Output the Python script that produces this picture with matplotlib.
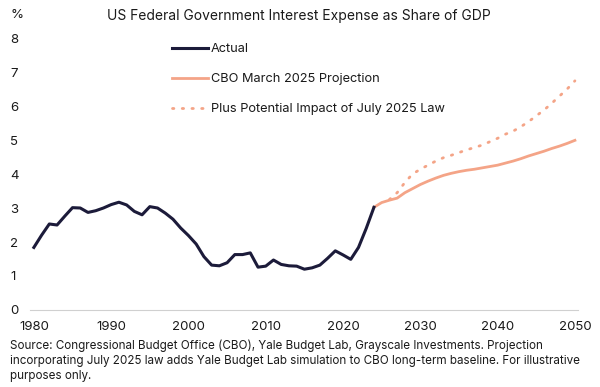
import matplotlib
matplotlib.use("Agg")
import matplotlib.pyplot as plt
from matplotlib.lines import Line2D
import matplotlib.transforms as mtransforms

plt.rcParams['font.family'] = ['Inter', 'DejaVu Sans']

actual_years = list(range(1980, 2025))
actual_values = [1.84, 2.20, 2.53, 2.50, 2.76, 3.01, 3.00, 2.87, 2.92, 3.00,
                 3.10, 3.17, 3.09, 2.90, 2.80, 3.04, 3.00, 2.85, 2.67, 2.41,
                 2.19, 1.94, 1.57, 1.32, 1.30, 1.39, 1.63, 1.63, 1.68, 1.26,
                 1.29, 1.47, 1.34, 1.30, 1.29, 1.20, 1.24, 1.32, 1.52, 1.74,
                 1.62, 1.49, 1.84, 2.40, 3.02]

cbo_years = list(range(2024, 2051))
cbo_values = [3.02, 3.16, 3.23, 3.29, 3.45, 3.57, 3.69, 3.79, 3.88, 3.96,
              4.02, 4.07, 4.11, 4.14, 4.18, 4.22, 4.26, 4.32, 4.38, 4.45,
              4.53, 4.60, 4.67, 4.75, 4.82, 4.90, 4.99]

law_years = list(range(2026, 2051))
law_values = [3.25, 3.45, 3.75, 4.00, 4.14, 4.26, 4.38, 4.48, 4.55, 4.63,
              4.71, 4.78, 4.85, 4.95, 5.05, 5.17, 5.26, 5.39, 5.54, 5.71,
              5.88, 6.08, 6.29, 6.50, 6.74]

x_ticks = [1980, 1990, 2000, 2010, 2020, 2030, 2040, 2050]
y_ticks = [0, 1, 2, 3, 4, 5, 6, 7, 8]

title = "US Federal Government Interest Expense as Share of GDP"
legend_labels = ["Actual", "CBO March 2025 Projection",
                 "Plus Potential Impact of July 2025 Law"]
source = ("Source: Congressional Budget Office (CBO), Yale Budget Lab, Grayscale Investments. Projection\n"
          "incorporating July 2025 law adds Yale Budget Lab simulation to CBO long-term baseline. For illustrative\n"
          "purposes only.")

navy = "#1c1b3a"
salmon = "#f4a487"
text_c = "#1a1a1a"

fig = plt.figure(figsize=(6, 3.87), dpi=100)
ax = fig.add_axes([30/600, 1 - 310/387, 548/600, 272/387])

dots = (0, (0.5, 3.0))
ax.plot(actual_years, actual_values, color=navy, lw=2.2, zorder=3)
ax.plot(cbo_years, cbo_values, color=salmon, lw=2.0, zorder=2)
ax.plot(law_years, law_values, color=salmon, lw=2.0, linestyle=dots,
        dash_capstyle='round', zorder=2)

ax.set_xlim(1979.5, 2050.4)
ax.set_ylim(0, 8)
ax.set_xticks(x_ticks)
ax.set_yticks(y_ticks)
ax.tick_params(axis='both', length=0, labelsize=9.5, colors=text_c)
ax.tick_params(axis='x', pad=8)
for s in ['top', 'right', 'left']:
    ax.spines[s].set_visible(False)
ax.spines['bottom'].set_color('#d0d0d0')
ax.spines['bottom'].set_linewidth(0.8)

ytr = ax.get_yaxis_transform(which='tick1') + mtransforms.ScaledTranslation(-20/100, 0, fig.dpi_scale_trans)
for lab in ax.get_yticklabels():
    lab.set_horizontalalignment('left')
    lab.set_transform(ytr)

fig.text(10/600, 1 - 15/387, "%", fontsize=9.5, color=text_c, va='center', ha='left')
fig.text(299/600, 1 - 16/387, title, fontsize=10, color=text_c, va='center', ha='center')

handles = [Line2D([], [], color=navy, lw=2.2),
           Line2D([], [], color=salmon, lw=2.0),
           Line2D([], [], color=salmon, lw=2.0, linestyle=dots, dash_capstyle='round')]
leg = ax.legend(handles, legend_labels, loc='upper left', bbox_to_anchor=(0.25, 1.0),
                frameon=False, fontsize=9.2, handlelength=2.8, handletextpad=0.25,
                labelspacing=1.42, borderaxespad=0)
for t in leg.get_texts():
    t.set_color(text_c)

fig.text(10/600, 1 - 339/387, source, fontsize=8.4, color=text_c, va='top', ha='left',
         linespacing=1.36)

fig.savefig("out.png", dpi=100)
